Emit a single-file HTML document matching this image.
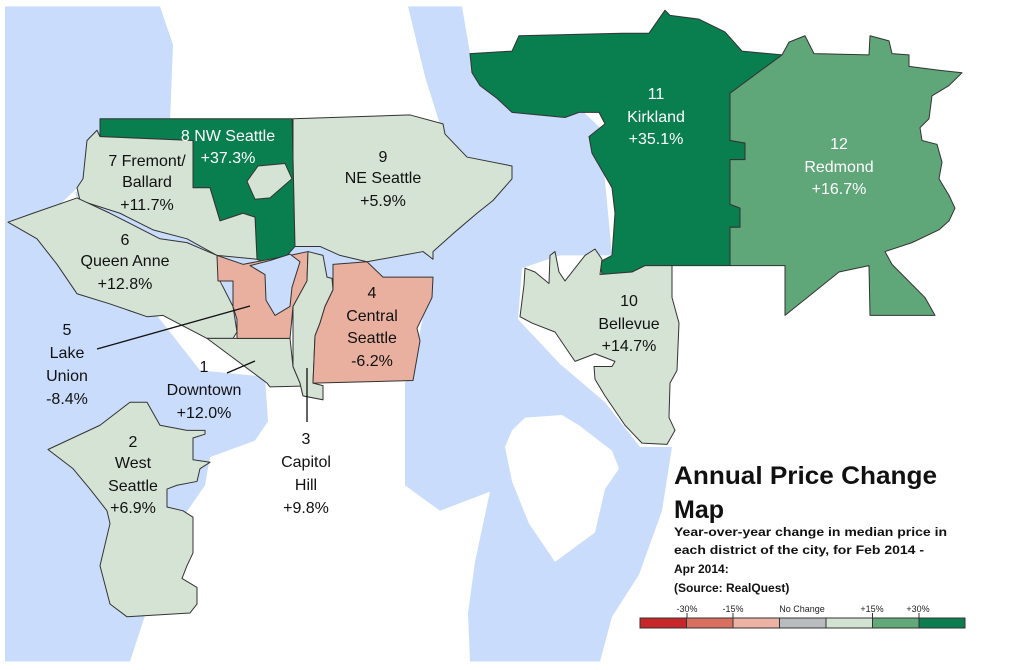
<!DOCTYPE html>
<html><head><meta charset="utf-8"><style>
html,body{margin:0;padding:0;background:#fff;}
svg{display:block;}
text{font-family:"Liberation Sans",sans-serif;}
</style></head><body>
<svg width="1024" height="670" viewBox="0 0 1024 670" xmlns="http://www.w3.org/2000/svg">
<rect width="1024" height="670" fill="#fff"/>
<g transform="scale(1,1.277)" stroke-linejoin="round">
<g fill="#c9dcfb" stroke="none">
<polygon points="5,5 160,5 173,35 170,95 100,130 60,160 100,200 160,250 200,290 265,295 268,330 255,345 210,358 205,380 170,420 150,470 130,518 5,518"/>
<polygon points="408,5 462,5 470,42 520,40 600,100 612,200 560,200 522,210 518,250 560,285 605,315 640,350 672,350 662,400 639,450 612,483 600,518 470,518 468,480 475,440 490,385 440,400 405,380 405,300 420,260 435,200 450,150 445,110 425,60"/>
<polygon points="75,150 160,178 240,195 300,188 440,188 440,222 330,222 300,220 290,262 240,262 215,205 80,164"/>
</g>
<polygon fill="#fff" points="512,337 525,327 562,325 579,333 612,353 619,367 605,383 595,417 555,440 529,410 512,377 505,350"/>
<g stroke="#333" stroke-width="1">
<polygon fill="#097e4f" vector-effect="non-scaling-stroke" points="100,93 292,93 293,123 295,193 287,200 280,210 257,203 255,170 243,167 220,173 210,147 193,147 193,110 100,107"/>
<polygon fill="#d5e3d5" vector-effect="non-scaling-stroke" points="100,107 193,110 193,147 210,147 220,173 243,167 255,170 257,203 217,200 187,187 153,180 120,167 80,157 77,147 83,140 87,110 97,102"/>
<polygon fill="#d5e3d5" vector-effect="non-scaling-stroke" points="293,93 410,90 443,97 445,105 467,123 512,130 512,140 493,157 477,167 453,183 433,197 433,203 423,197 367,205 340,200 320,193 295,193 293,123"/>
<polygon fill="#d5e3d5" vector-effect="non-scaling-stroke" points="247,142 258,130 285,128 292,140 270,155 255,156"/>
<polygon fill="#d5e3d5" vector-effect="non-scaling-stroke" points="8,174 33,167 77,155 110,167 160,187 187,190 217,200 220,220 233,240 237,260 233,265 207,265 163,247 147,248 110,238 77,230 57,207 37,187"/>
<polygon fill="#d5e3d5" vector-effect="non-scaling-stroke" points="207,265 290,265 293,287 300,300 303,310 323,313 323,302 270,303 267,300"/>
<polygon fill="#e9b09f" vector-effect="non-scaling-stroke" points="217,200 243,207 290,200 308,197 307,220 293,240 290,265 237,265 237,250 233,240 233,220 218,220"/>
<polygon fill="#c9dcfb" vector-effect="non-scaling-stroke" points="250,208 265,215 266,235 275,247 290,240 292,225 300,205 290,199 270,204"/>
<polygon fill="#d5e3d5" vector-effect="non-scaling-stroke" points="308,197 323,200 327,217 332,218 333,227 325,240 320,253 315,263 313,300 323,302 323,313 303,310 300,300 293,287 293,240 307,220"/>
<polygon fill="#e9b09f" vector-effect="non-scaling-stroke" points="333,207 367,205 383,217 433,217 432,233 417,257 420,267 413,298 313,300 315,263 320,253 325,240 333,227"/>
<polygon fill="#d5e3d5" vector-effect="non-scaling-stroke" points="48,352 100,333 130,315 147,315 160,333 187,337 205,337 205,340 193,343 193,360 210,362 200,367 197,377 177,380 167,383 167,397 183,400 193,405 193,433 187,443 182,453 197,460 197,473 190,480 127,483 110,473 100,443 110,410 107,400 90,383 73,367"/>
<polygon fill="#097e4f" vector-effect="non-scaling-stroke" points="470,42 512,40 519,28 622,26 649,26 665,8 670,12 699,15 725,25 742,40 782,43 784,43 730,73 730,110 745,112 745,125 730,125 730,160 740,163 740,178 730,178 730,208 672,208 645,208 632,213 602,215 600,205 612,200 615,167 612,147 592,120 589,107 605,97 599,88 579,88 565,92 512,88 497,77 480,67 472,57"/>
<polygon fill="#5fa679" vector-effect="non-scaling-stroke" points="730,73 782,43 789,33 805,28 814,42 869,43 870,28 889,32 892,42 909,43 909,52 939,55 962,57 949,67 932,75 929,93 920,100 922,110 937,113 942,127 939,140 949,153 955,163 949,173 939,180 912,190 885,197 892,207 925,233 935,247 870,247 869,208 839,213 812,230 785,247 785,208 730,208 730,178 740,178 740,163 730,160 730,125 745,125 745,112 730,110"/>
<polygon fill="#d5e3d5" vector-effect="non-scaling-stroke" points="672,208 672,233 679,253 677,290 670,300 669,327 675,337 667,348 642,347 625,333 605,310 595,297 594,287 612,287 615,283 595,277 575,283 555,260 532,253 520,248 524,223 525,210 535,213 549,222 550,200 555,197 559,213 565,220 585,200 595,195 602,203 600,215 632,213 645,208"/>
</g>
</g>
<g stroke="#111" stroke-width="1.3">
<line x1="97" y1="349" x2="250" y2="306"/>
<line x1="227" y1="373" x2="255" y2="361"/>
<line x1="307" y1="368" x2="307" y2="422"/>
</g>
<g font-size="16" text-anchor="middle" fill="#111">
<g fill="#fff"><text x="228" y="141">8 NW Seattle</text><text x="228" y="163">+37.3%</text>
<text x="656" y="99">11</text><text x="656" y="122">Kirkland</text><text x="656" y="144">+35.1%</text>
<text x="839" y="149">12</text><text x="839" y="172">Redmond</text><text x="839" y="194">+16.7%</text></g>
<text x="147" y="166">7 Fremont/</text><text x="147" y="187">Ballard</text><text x="147" y="210">+11.7%</text>
<text x="383" y="162">9</text><text x="383" y="183">NE Seattle</text><text x="383" y="206">+5.9%</text>
<text x="125" y="245">6</text><text x="125" y="266">Queen Anne</text><text x="125" y="289">+12.8%</text>
<text x="67" y="335">5</text><text x="67" y="358">Lake</text><text x="67" y="381">Union</text><text x="67" y="404">-8.4%</text>
<text x="204" y="372">1</text><text x="204" y="395">Downtown</text><text x="204" y="418">+12.0%</text>
<text x="372" y="298">4</text><text x="372" y="321">Central</text><text x="372" y="343">Seattle</text><text x="372" y="366">-6.2%</text>
<text x="133" y="447">2</text><text x="133" y="468">West</text><text x="133" y="491">Seattle</text><text x="133" y="513">+6.9%</text>
<text x="306" y="444">3</text><text x="306" y="467">Capitol</text><text x="306" y="490">Hill</text><text x="306" y="513">+9.8%</text>
<text x="629" y="306">10</text><text x="629" y="329">Bellevue</text><text x="629" y="351">+14.7%</text>
</g>
<g fill="#111" font-weight="bold">
<text x="674" y="484" font-size="25" textLength="263" lengthAdjust="spacingAndGlyphs">Annual Price Change</text>
<text x="674" y="518" font-size="25">Map</text>
<g font-size="12">
<text x="674" y="536" textLength="273" lengthAdjust="spacingAndGlyphs">Year-over-year change in median price in</text>
<text x="674" y="554" textLength="250" lengthAdjust="spacingAndGlyphs">each district of the city, for Feb 2014 -</text>
<text x="674" y="573">Apr 2014:</text>
<text x="674" y="592">(Source: RealQuest)</text>
</g></g>
<g font-size="9" fill="#222" text-anchor="middle">
<text x="687" y="612">-30%</text><text x="733" y="612">-15%</text><text x="802" y="612">No Change</text><text x="872" y="612">+15%</text><text x="918" y="612">+30%</text>
</g>
<g stroke="#333" stroke-width="1">
<rect x="640" y="618" width="46.5" height="10" fill="#c8272a"/>
<rect x="686.5" y="618" width="46.5" height="10" fill="#d9705f"/>
<rect x="733" y="618" width="46.5" height="10" fill="#ecb3a5"/>
<rect x="779.5" y="618" width="46.5" height="10" fill="#b9bcbf"/>
<rect x="826" y="618" width="46.5" height="10" fill="#d3e3d3"/>
<rect x="872.5" y="618" width="46.5" height="10" fill="#62a878"/>
<rect x="919" y="618" width="46" height="10" fill="#0c7d4f"/>
<line x1="687" y1="613" x2="687" y2="618"/><line x1="733" y1="613" x2="733" y2="618"/><line x1="872.5" y1="613" x2="872.5" y2="618"/><line x1="919" y1="613" x2="919" y2="618"/>
</g>
</svg>
</body></html>
